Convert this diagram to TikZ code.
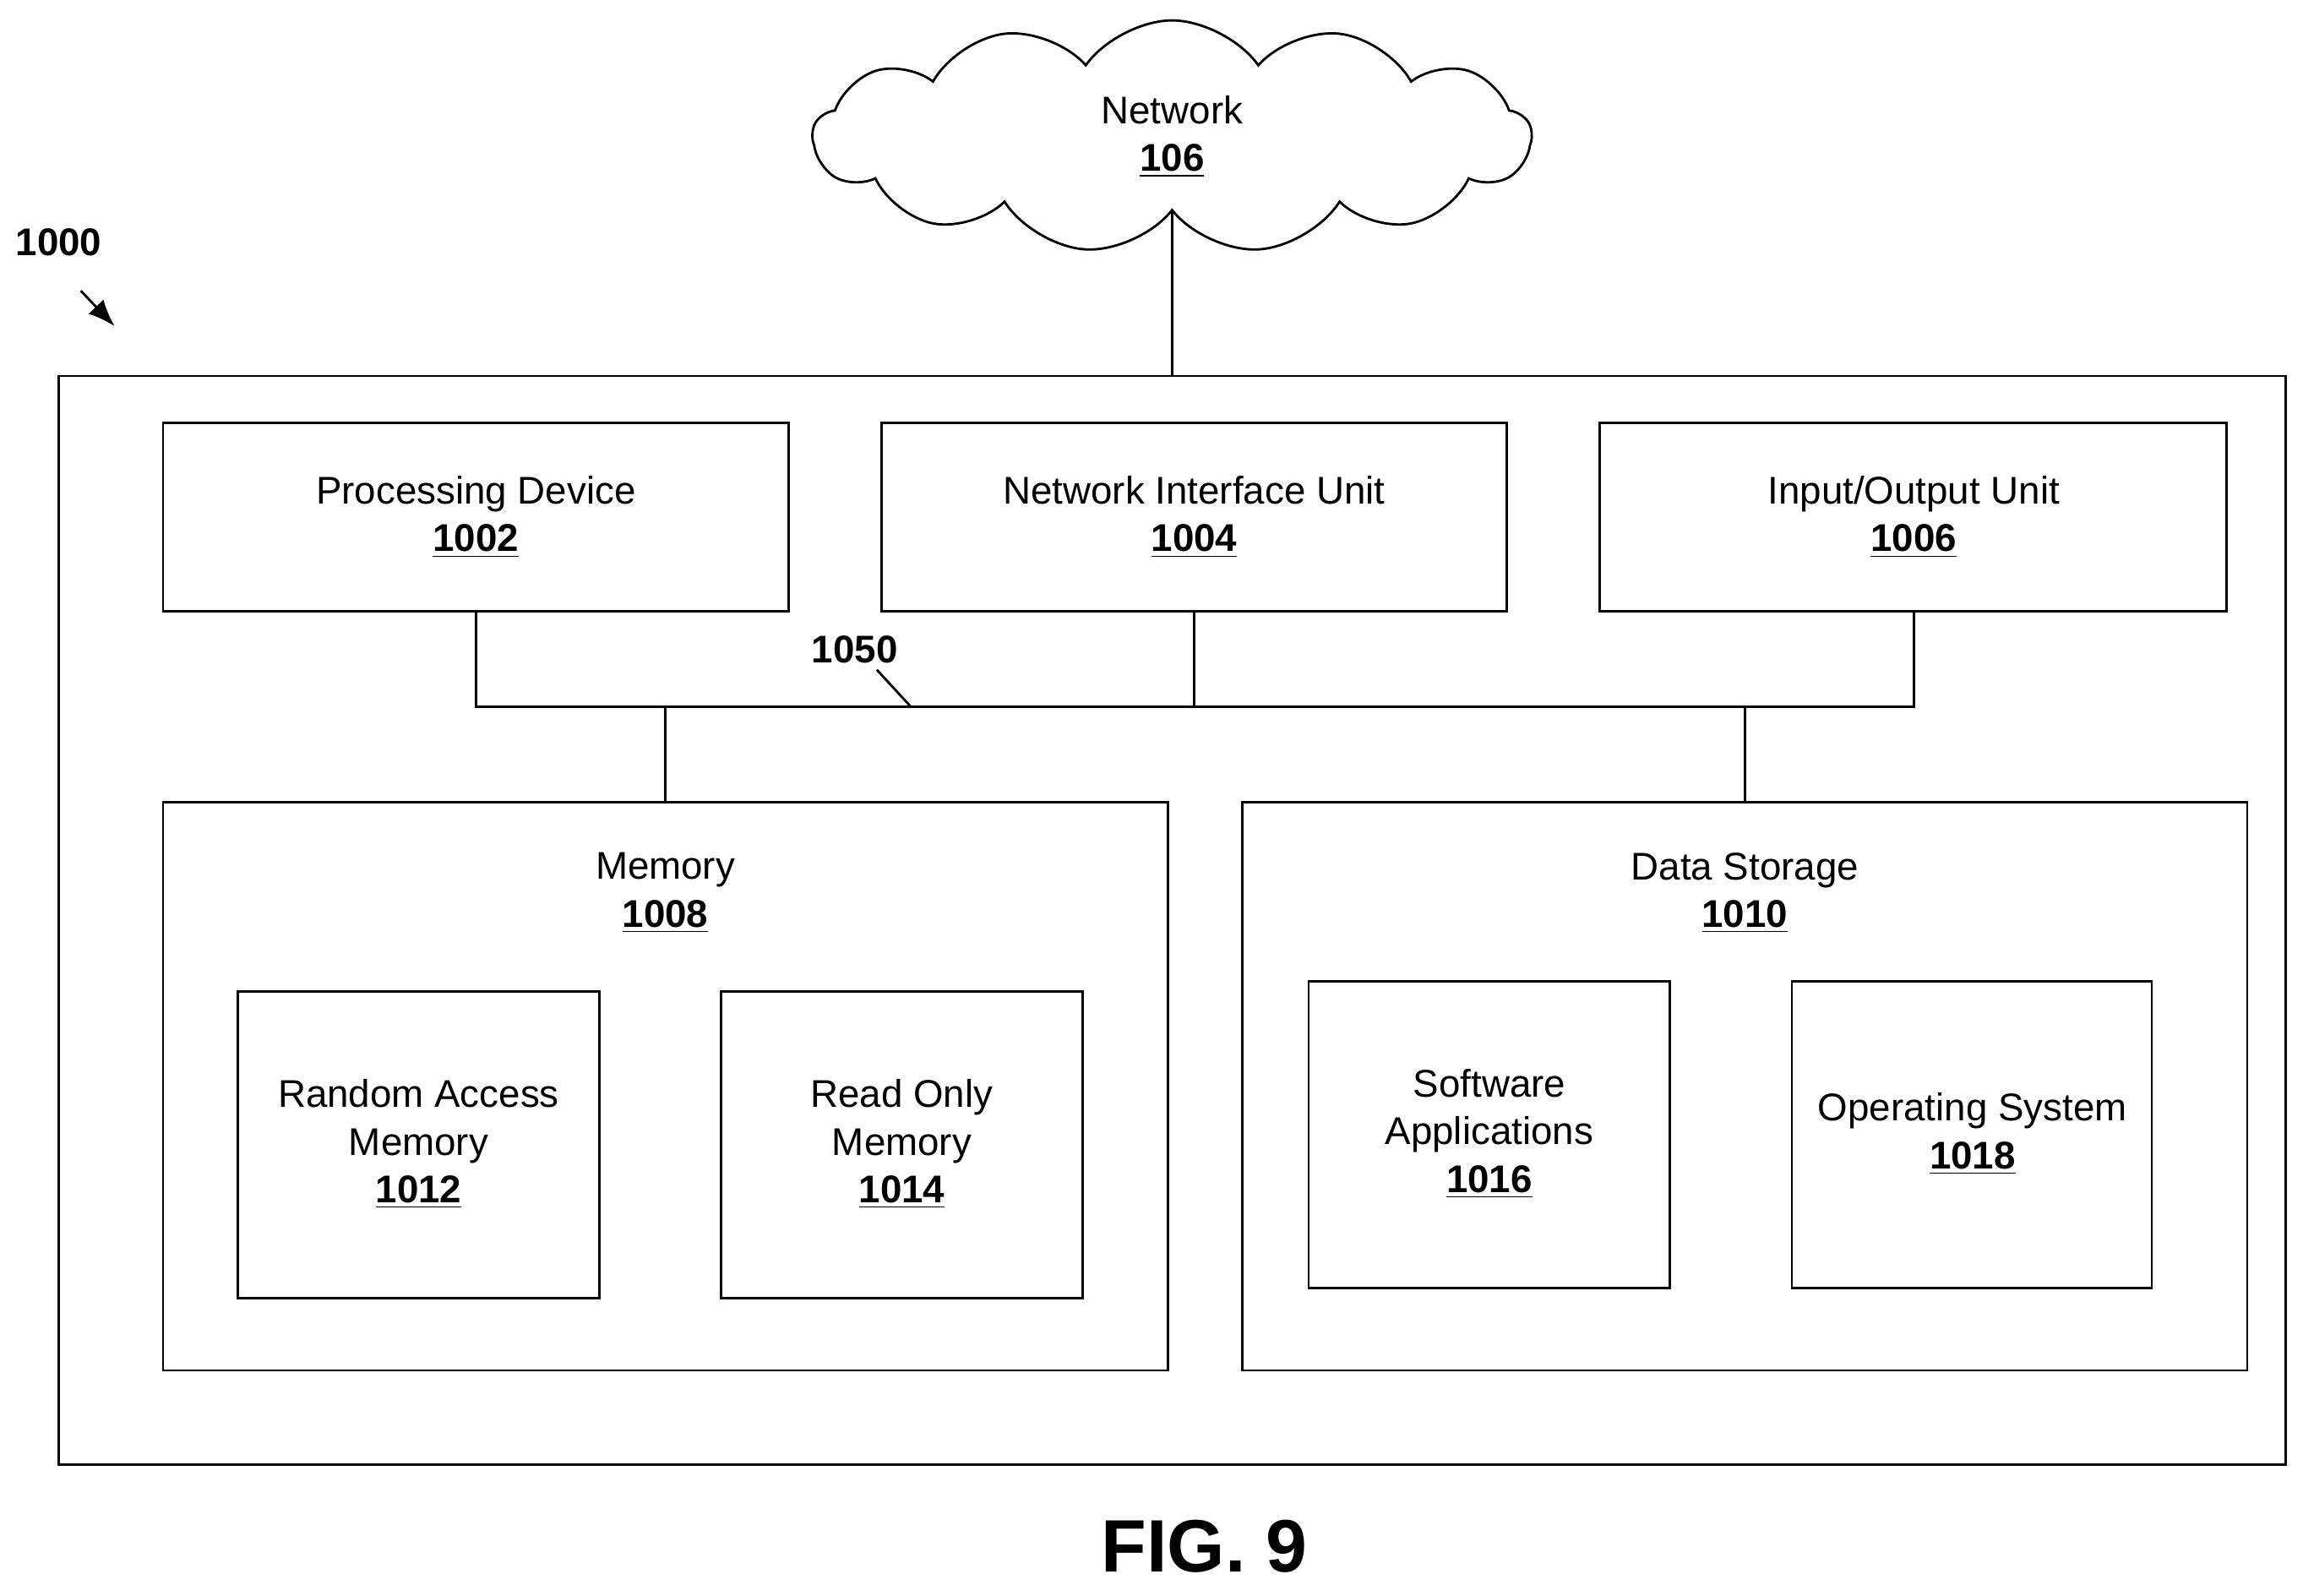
\documentclass[tikz,border=0pt]{standalone}
\usepackage{fontspec}
\setmainfont{Liberation Sans}
\usetikzlibrary{shapes.symbols,arrows.meta}
\newcommand{\refnum}[1]{\textbf{\underline{#1}}}

\begin{document}
\begin{tikzpicture}[x=0.017385cm,y=-0.017385cm,line width=0.8pt,
  box/.style={draw,minimum width=#1},
  unit/.style={draw,align=center,font=\fontsize{13}{16}\selectfont},
  txt/.style={align=center,font=\fontsize{13}{16}\selectfont}]
\useasboundingbox (0,0) rectangle (1568,1086);

\node[draw,cloud,cloud puffs=13,cloud puff arc=110,aspect=3.2,minimum width=8.5cm,minimum height=2.75cm,txt] (net) at (798,93) {Network\\\refnum{106}};

\draw (40,256) rectangle (1556,997);
\coordinate (top) at (798,256);
\draw (net.south) -- (top);

% top row
\draw (111,288) rectangle (537,416);
\node[txt] (pd) at (324,352) {Processing Device\\\refnum{1002}};
\draw (600,288) rectangle (1026,416);
\node[txt] (niu) at (813,352) {Network Interface Unit\\\refnum{1004}};
\draw (1089,288) rectangle (1516,416);
\node[txt] (io) at (1303,352) {Input/Output Unit\\\refnum{1006}};

% bus
\coordinate (pdb) at (324,416);
\coordinate (niub) at (813,416);
\coordinate (iob) at (1303,416);
\coordinate (bl) at (324,481);
\coordinate (bm) at (813,481);
\coordinate (br) at (1303,481);
\draw (pdb) -- (bl) -- (br) -- (iob);
\draw (niub) -- (bm);
\coordinate (memt) at (453,546);
\coordinate (dst) at (1188,546);
\draw (memt) -- (453,481);
\draw (dst) -- (1188,481);
\node[txt,font=\bfseries\fontsize{13}{16}\selectfont] (bus) at (582,442) {1050};
\draw (597,456) -- (620,481);

% memory
\draw (111,546) rectangle (795,933);
\node[txt] (mem) at (453,608) {Memory\\\refnum{1008}};
\draw (162,675) rectangle (408,884);
\node[txt] (ram) at (285,779) {Random Access\\Memory\\\refnum{1012}};
\draw (491,675) rectangle (737,884);
\node[txt] (rom) at (614,779) {Read Only\\Memory\\\refnum{1014}};

% data storage
\draw (846,546) rectangle (1530,933);
\node[txt] (ds) at (1188,608) {Data Storage\\\refnum{1010}};
\draw (891,668) rectangle (1137,877);
\node[txt] (sw) at (1014,772) {Software\\Applications\\\refnum{1016}};
\draw (1220,668) rectangle (1465,877);
\node[txt] (os) at (1343,772) {Operating System\\\refnum{1018}};

% labels
\node[txt,font=\bfseries\fontsize{13}{16}\selectfont] (sys) at (40,165) {1000};
\draw[-{Latex[length=9pt,width=7pt]}] (55,198) -- (78,222);
\node[font=\bfseries\fontsize{25}{30}\selectfont] (fig) at (820,1053) {FIG. 9};
\end{tikzpicture}
\end{document}
